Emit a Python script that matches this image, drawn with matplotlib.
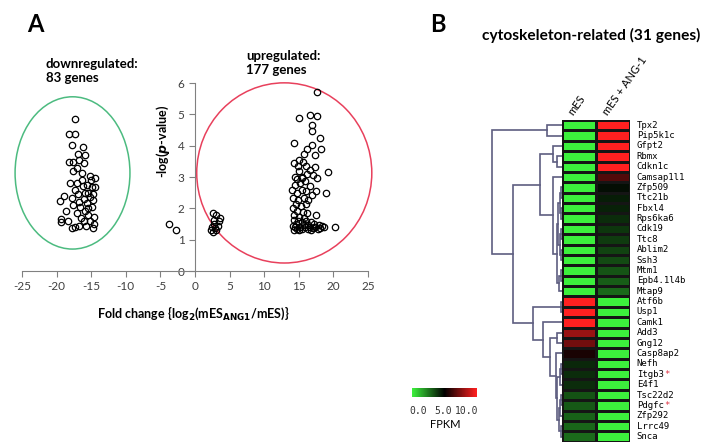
import numpy as np
import matplotlib
matplotlib.use('Agg')
import matplotlib.pyplot as plt
from matplotlib.patches import Ellipse
from matplotlib.colors import LinearSegmentedColormap
from matplotlib.transforms import offset_copy

plt.rcParams['font.family'] = ['Lato', 'DejaVu Sans']
plt.rcParams['axes.unicode_minus'] = False

# ---- panel A : volcano data ----
up_x = [17.7, 15.1, 16.6, 17.7, 16.9, 16.9, 18.1, 14.3, 16.9, 16.2, 18.2, 17.3, 15.8, 14.3, 15.1,
        19.2, 19.0, 17.5, 20.2,
        14.9, 15.6, 16.0, 16.6, 17.3, 17.0, 16.2, 15.4, 14.7, 14.5, 15.2, 15.9, 16.6, 17.7, 17.5,
        16.9, 16.1, 15.4, 14.7, 14.2, 14.9, 15.7, 16.4, 14.6, 15.3, 16.0, 14.1, 14.8, 15.6, 16.2,
        14.3, 15.1, 15.8,
        14.0, 14.4, 15.0, 15.5, 14.3, 14.9, 15.4, 16.1, 16.7, 17.2, 17.9, 18.3, 18.6, 14.1, 14.5,
        14.8, 15.2, 15.5, 15.9, 16.3, 16.6, 17.0, 17.4, 17.8, 14.3, 15.0, 15.7, 16.8, 18.0, 14.6,
        16.4]
up_y = [5.71, 4.88, 4.98, 4.95, 4.66, 4.47, 4.26, 4.10, 4.03, 3.90, 3.90, 3.70, 3.74, 3.46, 3.55,
        3.17, 2.48, 1.79, 1.42,
        3.35, 3.49, 3.35, 3.22, 3.31, 3.07, 3.10, 2.96, 2.93, 2.75, 2.80, 2.86, 2.70, 2.96, 2.54,
        2.43, 2.54, 2.59, 2.48, 2.32, 2.27, 2.32, 2.27, 2.14, 2.08, 2.14, 2.00, 1.92, 1.89, 1.84,
        1.79, 1.73, 1.68,
        2.60, 3.00, 3.20, 3.00, 1.62, 1.58, 1.55, 1.60, 1.55, 1.50, 1.48, 1.45, 1.40, 1.45, 1.40,
        1.35, 1.42, 1.33, 1.40, 1.35, 1.42, 1.36, 1.40, 1.34, 1.32, 1.30, 1.46, 1.30, 1.38, 1.50,
        1.48]

small_x = [2.6, 3.1, 3.6, 2.8, 3.5, 2.4, 2.9, 2.3, 3.1, 2.6, 3.3, 2.7, -3.7, -2.7]
small_y = [1.85, 1.79, 1.69, 1.63, 1.58, 1.42, 1.37, 1.31, 1.31, 1.25, 1.45, 1.50, 1.49, 1.32]

down_x = [-17.4, -18.2, -17.3, -17.8, -16.2, -16.9, -15.9, -18.2, -17.6, -16.7, -16.1, -17.7,
          -16.4, -15.2, -14.5, -18.0, -17.1, -16.4, -15.6, -14.9, -14.4, -19.0, -19.5, -17.8,
          -16.9, -15.9, -15.2, -14.7, -17.6, -16.6, -15.6, -14.9, -17.1, -15.9, -15.4, -14.6,
          -19.3, -19.3, -18.3, -17.8, -17.3, -16.7, -14.7, -15.2,
          -16.2, -15.0, -16.0, -15.4, -16.5, -16.0, -14.6, -15.5, -17.4, -18.6, -16.8, -14.8,
          -15.8, -17.0]
down_y = [4.86, 4.38, 4.38, 4.03, 3.97, 3.74, 3.71, 3.47, 3.47, 3.55, 3.46, 3.19,
          3.14, 3.04, 2.96, 2.82, 2.80, 2.91, 2.75, 2.69, 2.67, 2.40, 2.25, 2.32,
          2.45, 2.48, 2.35, 2.27, 2.11, 2.05, 2.16, 2.05, 1.86, 1.93, 1.79, 1.73,
          1.65, 1.56, 1.58, 1.38, 1.41, 1.45, 1.38, 1.58,
          2.70, 2.90, 2.30, 2.50, 1.70, 1.60, 1.50, 2.00, 2.60, 1.90, 2.20, 2.45,
          1.45, 3.30]

# ---- panel B : heatmap data ----
genes = ['Tpx2', 'Pip5k1c', 'Gfpt2', 'Rbmx', 'Cdkn1c', 'Camsap1l1', 'Zfp509', 'Ttc21b',
         'Fbxl4', 'Rps6ka6', 'Cdk19', 'Ttc8', 'Ablim2', 'Ssh3', 'Mtm1', 'Epb4.1l4b', 'Mtap9',
         'Atf6b', 'Usp1', 'Camk1', 'Add3', 'Gng12', 'Casp8ap2', 'Nefh', 'Itgb3', 'E4f1',
         'Tsc22d2', 'Pdgfc', 'Zfp292', 'Lrrc49', 'Snca']
starred = ['Itgb3', 'Pdgfc']
samples = ['mES', 'mES + ANG-1']
fpkm_mes = [0, 0, 0, 0, 0, 0, 0, 0, 0, 0, 0, 0, 0, 0, 0, 0, 0,
            10, 10, 10, 8.0, 7.2, 5.5, 4.2, 4.1, 4.1, 3.3, 3.2, 3.0, 2.9, 2.8]
fpkm_ang = [10, 10, 10, 10, 10, 6.6, 4.7, 4.4, 4.3, 4.1, 3.9, 3.75, 3.6, 3.45, 3.25, 3.05, 2.85,
            0, 0, 0, 0, 0, 0, 0, 0, 0, 0, 0, 0, 0, 0]

# dendrogram merges: (child_a, child_b, height); new node id = 31 + index
merges = [(0, 1, 15), (3, 4, 4.7), (2, 32, 9), (6, 7, 1), (8, 9, 1), (34, 35, 2),
          (10, 11, 1), (12, 13, 1), (37, 38, 2), (36, 39, 3.5), (14, 15, 1), (41, 16, 2.5),
          (40, 42, 5), (5, 43, 9), (33, 44, 21.7), (17, 18, 0.8), (20, 21, 4.7), (23, 24, 1),
          (48, 25, 2), (26, 27, 1), (50, 28, 2), (29, 30, 1), (51, 52, 3), (49, 53, 4.5),
          (22, 54, 6), (47, 55, 11.7), (19, 56, 18.4), (46, 57, 29), (45, 58, 48.7),
          (31, 59, 69.7)]


def px(x0, y0, w, h):
    # pixel box (from top-left) -> figure fraction
    return [x0 / 714, 1 - (y0 + h) / 445, w / 714, h / 445]


fig = plt.figure(figsize=(7.14, 4.45), dpi=100)

# ================= panel A =================
ax = fig.add_axes(px(22, 83, 346, 188))
ax.plot(down_x, down_y, 'o', ms=4.6, mfc='none', mec='black', mew=0.9)
ax.plot(up_x, up_y, 'o', ms=4.6, mfc='none', mec='black', mew=0.9)
ax.plot(small_x, small_y, 'o', ms=4.6, mfc='none', mec='black', mew=0.9)
ax.add_patch(Ellipse((-17.7, 3.13), 16.6, 4.86, fill=False, ec='#4cbb80', lw=1.1, clip_on=False))
ax.add_patch(Ellipse((12.9, 3.13), 25.3, 5.75, fill=False, ec='#e8405c', lw=1.1, clip_on=False))
ax.set_xlim(-25, 25)
ax.set_ylim(0, 6)
ax.spines['left'].set_position(('data', 0))
ax.spines['bottom'].set_position(('data', 0))
for s in ['top', 'right']:
    ax.spines[s].set_visible(False)
for s in ['left', 'bottom']:
    ax.spines[s].set_color('#808080')
ax.set_xticks(range(-25, 30, 5))
ax.set_yticks(range(0, 7))
ax.tick_params(direction='out', length=4, color='#808080', labelsize=8.5, labelcolor='#404040')
ax.patch.set_alpha(0)

fig.text(35 / 714, 1 - 25 / 445, 'A', fontsize=17, fontweight='bold', ha='center', va='center')
fig.text(46 / 714, 1 - 71 / 445, 'downregulated:\n83 genes', fontsize=9.5, fontweight='bold',
         ha='left', va='center', linespacing=1.2)
fig.text(246 / 714, 1 - 63 / 445, 'upregulated:\n177 genes', fontsize=9.5, fontweight='bold',
         ha='left', va='center', linespacing=1.2)
fig.text(163 / 714, 1 - 141 / 445, r'-log($\mathbfit{p}$-value)', fontsize=9, fontweight='bold',
         rotation=90, ha='center', va='center')
fig.text(193 / 714, 1 - 313 / 445, r'Fold change {log$_\mathbf{2}$(mES$_\mathbf{ANG1}$/mES)}',
         fontsize=9, fontweight='bold', ha='center', va='center')

# ================= panel B =================
cmap = LinearSegmentedColormap.from_list('gbr', ['#3cf03c', '#000000', '#ff2020'])
vals = np.column_stack([fpkm_mes, fpkm_ang])
axh = fig.add_axes(px(561.7, 120, 68.3, 321.7))
axh.pcolormesh(vals, cmap=cmap, vmin=0, vmax=10, edgecolors='#151515', linewidth=0.8)
axh.set_xlim(0, 2)
axh.set_ylim(len(genes), 0)
axh.axis('off')
gsize = 6.5
for i, g in enumerate(genes):
    axh.text(2.2, i + 0.5, g, fontsize=gsize, family='DejaVu Sans Mono', va='center', ha='left',
             clip_on=False)
    if g in starred:
        # monospace advance is 0.602 em
        tr = offset_copy(axh.transData, fig=fig, x=len(g) * 0.602 * gsize, y=0, units='points')
        axh.text(2.2, i + 0.5, '*', fontsize=gsize, family='DejaVu Sans Mono', transform=tr,
                 color='#e03040', va='center', ha='left', clip_on=False)
for j, s in enumerate(samples):
    axh.text(j + 0.4, -0.3, s, fontsize=8, rotation=55, ha='left', va='bottom',
             rotation_mode='anchor', clip_on=False)

# dendrogram
axd = fig.add_axes(px(488, 120, 73.7, 321.7))
pos = {i: i + 0.5 for i in range(len(genes))}
hgt = {i: 0.0 for i in range(len(genes))}
for k, (a, b, h) in enumerate(merges):
    node = len(genes) + k
    axd.plot([hgt[a], h, h, hgt[b]], [pos[a], pos[a], pos[b], pos[b]], color='#5e5e80', lw=1.2,
             solid_joinstyle='miter')
    pos[node] = (pos[a] + pos[b]) / 2
    hgt[node] = h
axd.set_xlim(73.7, 0)
axd.set_ylim(len(genes), 0)
axd.axis('off')

fig.text(438 / 714, 1 - 24 / 445, 'B', fontsize=17, fontweight='bold', ha='center', va='center')
fig.text(591 / 714, 1 - 35 / 445, 'cytoskeleton-related (31 genes)', fontsize=11.2,
         fontweight='bold', ha='center', va='center')

# color key
axc = fig.add_axes(px(412, 388, 64, 9))
axc.imshow(np.linspace(0, 10, 100)[None, :], cmap=cmap, aspect='auto', extent=[0, 10, 0, 1])
axc.axis('off')
for v, xpos in zip([0.0, 5.0, 10.0], [418, 443, 467]):
    fig.text(xpos / 714, 1 - 411 / 445, f'{v:.1f}', fontsize=7, family='DejaVu Sans Mono',
             color='#333333', ha='center', va='center')
fig.text(445 / 714, 1 - 424 / 445, 'FPKM', fontsize=8, ha='center', va='center')

fig.savefig('out.png', dpi=100)
